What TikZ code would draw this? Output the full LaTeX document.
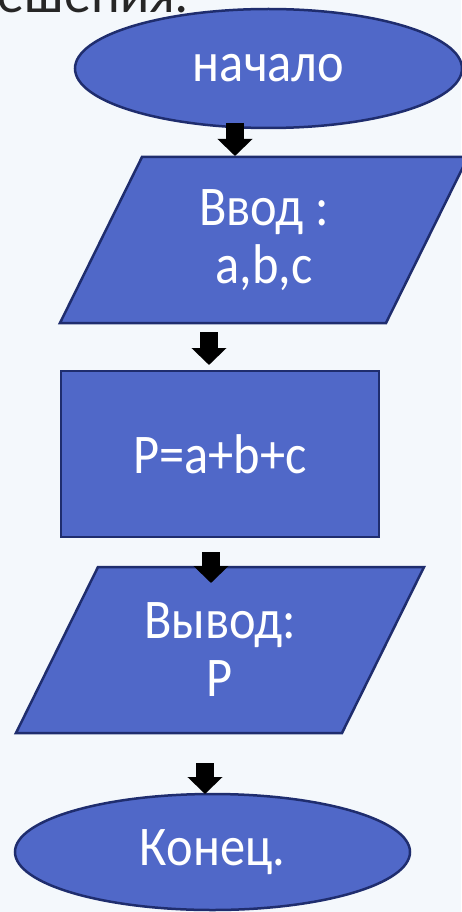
\documentclass[tikz,border=0pt]{standalone}
\usepackage{fontspec}
\setmainfont{Carlito}
\newfontfamily\boxfont[FakeStretch=0.9]{Carlito}
\usetikzlibrary{shapes.geometric,arrows.meta,calc}

\definecolor{bg}{RGB}{244,248,252}
\definecolor{boxfill}{RGB}{80,104,200}
\definecolor{boxline}{RGB}{31,45,110}
\definecolor{titlegray}{RGB}{38,38,38}

\begin{document}
\begin{tikzpicture}[%
    x=1pt, y=-1pt,              % work in pixels of the reference, y going down
    every node/.style={inner sep=0pt, outer sep=0pt},
    ]
% -------------------------------------------------
% Block styles
\tikzset{
  base/.style={draw=boxline, fill=boxfill, line width=2.5pt, text=white,
    align=center, font={\boxfont\fontsize{56}{58}\selectfont}},
  term/.style={base, ellipse},
  proc/.style={base, rectangle, minimum width=318pt, minimum height=166pt},
  % text holder of a slanted box, the outline is drawn with para
  inpt/.style={base, rectangle, draw=none, fill=none,
    minimum width=326pt, minimum height=166pt},
  para/.style={draw=boxline, fill=boxfill, line width=2.5pt, line join=miter},
  % -------------------------------------------------
  % Thick block arrows between the boxes
  blk/.style={line width=18pt, -{Triangle[width=34pt,length=17pt]}}
}
% -------------------------------------------------
% Background and frame
\fill[bg] (0,0) rectangle (461,912);
\useasboundingbox (0,0) rectangle (461,912);

% Heading, cut by the top edge
\node[anchor=base west, text=titlegray, font={\fontsize{54}{58}\selectfont}]
  (title) at (-2,13) {ешения:};

% -------------------------------------------------
% Centres of the slanted boxes
\coordinate (inpc) at (264,240);
\coordinate (outpc) at (220,650);
\draw[para] ($(inpc)+(-204,83)$) -- ($(inpc)+(-122,-83)$)
  -- ($(inpc)+(204,-83)$) -- ($(inpc)+(122,83)$) -- cycle;
\draw[para] ($(outpc)+(-204,83)$) -- ($(outpc)+(-122,-83)$)
  -- ($(outpc)+(204,-83)$) -- ($(outpc)+(122,83)$) -- cycle;

% -------------------------------------------------
% Place the nodes
\node [term, minimum width=387pt, minimum height=119pt] (start) at (268.5,68.5) {начало};
\node [inpt] (inp) at (inpc) {Ввод :\\ a,b,c};
\node [proc] (calc) at (220,454) {P=a+b+c};
\node [inpt] (outp) at (outpc) {Вывод:\\ P};
\node [term, minimum width=395pt, minimum height=116pt] (stop) at (212.5,852) {Конец.};

% Columns of the arrows
\coordinate (c1) at (235,0);
\coordinate (c2) at (209,0);
\coordinate (c3) at (211,0);
\coordinate (c4) at (205,0);

% -------------------------------------------------
% Arrows
\draw[blk] ([yshift=5pt]start.south -| c1) -- ([yshift=1pt]inp.north -| c1);
\draw[blk] ([yshift=-9pt]inp.south -| c2) -- ([yshift=6pt]calc.north -| c2);
\draw[blk] ([yshift=-15pt]calc.south -| c3) -- ([yshift=-16pt]outp.north -| c3);
\draw[blk] ([yshift=-30pt]outp.south -| c4) -- (stop.north -| c4);

\end{tikzpicture}
\end{document}
